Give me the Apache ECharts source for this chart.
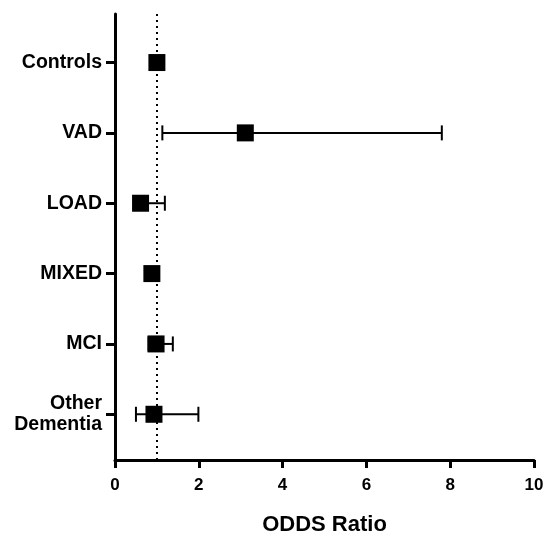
<!DOCTYPE html>
<html>
<head>
<meta charset="utf-8">
<script src="https://cdn.jsdelivr.net/npm/echarts@6/dist/echarts.min.js"></script>
<style>
  html, body { margin: 0; padding: 0; background: #fff; }
  #chart { width: 543px; height: 533px; }
</style>
</head>
<body>
<div id="chart"></div>
<script>
// 各组的 OR 值及95%CI（从上到下）
const groups = ['Controls', 'VAD', 'LOAD', 'MIXED', 'MCI', 'Other\nDementia'];
const oddsRatio = [1.0, 3.11, 0.61, 0.88, 0.98, 0.93];
const ciLow = [0.9, 1.13, 0.45, 0.75, 0.8, 0.5];
const ciHigh = [1.1, 7.8, 1.19, 1.0, 1.38, 1.99];
const xTicks = [0, 2, 4, 6, 8, 10];

const font = '"Liberation Sans", Arial, sans-serif';
const rows = groups.map((g, i) => i);

const chart = echarts.init(document.getElementById('chart'));

chart.setOption({
  animation: false,
  backgroundColor: '#fff',
  grid: {
    left: 115,
    right: 9,
    top: 14,
    bottom: 73,
    outerBoundsMode: 'none'
  },
  xAxis: {
    type: 'value',
    min: xTicks[0],
    max: xTicks[xTicks.length - 1],
    interval: 2,
    name: 'ODDS Ratio',
    nameLocation: 'middle',
    nameGap: 54,
    nameTextStyle: { color: '#000', fontSize: 22, fontWeight: 'bold', fontFamily: font },
    axisLine: { onZero: false, lineStyle: { color: '#000', width: 3 } },
    axisTick: { length: 8, lineStyle: { color: '#000', width: 3 } },
    axisLabel: { color: '#000', fontSize: 17, fontWeight: 'bold', fontFamily: font, margin: 17 },
    splitLine: { show: false }
  },
  yAxis: {
    type: 'value',
    inverse: true,
    min: -0.69,
    max: 5.65,
    axisLine: { show: true, onZero: false, lineStyle: { color: '#000', width: 3 } },
    axisTick: { show: true, length: 9, customValues: rows, lineStyle: { color: '#000', width: 3 } },
    axisLabel: {
      customValues: rows,
      formatter: v => groups[v],
      color: '#000',
      fontSize: 19.5,
      fontWeight: 'bold',
      fontFamily: font,
      lineHeight: 21,
      align: 'right',
      margin: 13
    },
    splitLine: { show: false }
  },
  series: [
    {
      // 误差线
      type: 'custom',
      z: 2,
      data: rows.map(i => [ciLow[i], ciHigh[i], i]),
      encode: { x: [0, 1], y: 2 },
      renderItem: (params, api) => {
        const y = api.value(2);
        const p1 = api.coord([api.value(0), y]);
        const p2 = api.coord([api.value(1), y]);
        const h = 7.5;
        const style = { stroke: '#000', lineWidth: 2 };
        return {
          type: 'group',
          children: [
            { type: 'line', shape: { x1: p1[0], y1: p1[1], x2: p2[0], y2: p2[1] }, style },
            { type: 'line', shape: { x1: p1[0], y1: p1[1] - h, x2: p1[0], y2: p1[1] + h }, style },
            { type: 'line', shape: { x1: p2[0], y1: p2[1] - h, x2: p2[0], y2: p2[1] + h }, style }
          ]
        };
      },
      markLine: {
        silent: true,
        symbol: 'none',
        label: { show: false },
        lineStyle: { color: '#000', type: [2, 4], width: 2, opacity: 1 },
        data: [{ xAxis: 1 }]
      }
    },
    {
      type: 'scatter',
      z: 3,
      symbol: 'rect',
      symbolSize: 17,
      itemStyle: { color: '#000', opacity: 1 },
      data: rows.map(i => [oddsRatio[i], i])
    }
  ]
});
</script>
</body>
</html>
